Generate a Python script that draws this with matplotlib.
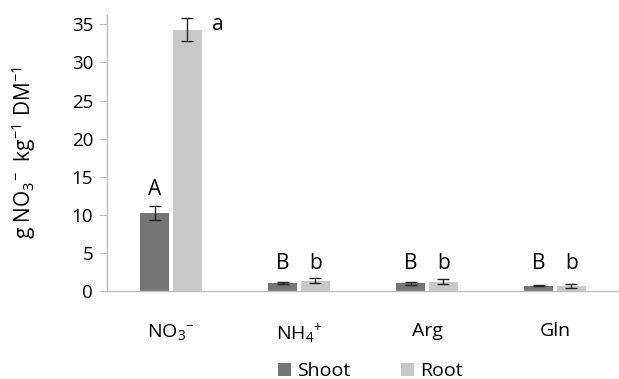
import matplotlib
matplotlib.use("Agg")
import matplotlib.pyplot as plt
import numpy as np

plt.rcParams['font.family'] = ['Open Sans', 'DejaVu Sans']
plt.rcParams['mathtext.fontset'] = 'custom'
plt.rcParams['mathtext.rm'] = 'Open Sans'
plt.rcParams['mathtext.it'] = 'Open Sans'
plt.rcParams['mathtext.bf'] = 'Open Sans'

categories = ["NO$_3$$^{-}$", "NH$_4$$^{+}$", "Arg", "Gln"]
shoot = [10.2, 1.1, 1.0, 0.7]
shoot_err = [0.9, 0.15, 0.15, 0.1]
root = [34.3, 1.35, 1.25, 0.65]
root_err = [1.5, 0.35, 0.35, 0.25]
shoot_letters = ["A", "B", "B", "B"]
root_letters = ["a", "b", "b", "b"]

fig = plt.figure(figsize=(6.19, 3.79), dpi=100)
ax = fig.add_axes([0.173, 0.232, 0.827, 0.728])

x = np.arange(len(categories))
w = 0.225
gap = 0.03
c_shoot = "#757575"
c_root = "#c8c8c8"
ax.bar(x - (w + gap) / 2, shoot, w, color=c_shoot, label="Shoot", zorder=2)
ax.bar(x + (w + gap) / 2, root, w, color=c_root, label="Root", zorder=2)
ax.errorbar(x - (w + gap) / 2, shoot, yerr=shoot_err, fmt="none", ecolor="#222222",
            capsize=4, elinewidth=1, capthick=1, zorder=3)
ax.errorbar(x + (w + gap) / 2, root, yerr=root_err, fmt="none", ecolor="#222222",
            capsize=4, elinewidth=1, capthick=1, zorder=3)

fs_let = 15
for i in range(len(categories)):
    if i == 0:
        ax.text(x[i] - (w + gap) / 2, shoot[i] + shoot_err[i] + 0.9, shoot_letters[i],
                ha="center", va="bottom", fontsize=fs_let)
        ax.text(x[i] + (w + gap) / 2 + 0.24, root[i] + root_err[i] + 0.6, root_letters[i],
                ha="center", va="top", fontsize=fs_let)
    else:
        ax.text(x[i] - (w + gap) / 2, 2.2, shoot_letters[i], ha="center", va="bottom", fontsize=fs_let)
        ax.text(x[i] + (w + gap) / 2, 2.2, root_letters[i], ha="center", va="bottom", fontsize=fs_let)

ax.set_xlim(-0.5, 3.5)
ax.set_ylim(0, 36.2)
ax.set_yticks(np.arange(0, 36, 5))
ax.set_xticks(x)
ax.set_xticklabels(categories, fontsize=14)
ax.tick_params(axis="x", length=0, pad=22)
ax.tick_params(axis="y", direction="out", length=6, color="#bfbfbf", labelsize=13.5, pad=4)
for s in ["top", "right"]:
    ax.spines[s].set_visible(False)
ax.spines["left"].set_color("#bfbfbf")
ax.spines["bottom"].set_color("#bfbfbf")
ax.spines["left"].set_linewidth(1)
ax.spines["bottom"].set_linewidth(1)

ax.set_ylabel("g NO$_3$$^{-}$  kg$^{-1}$ DM$^{-1}$", fontsize=15, labelpad=24)

fig.legend(loc="lower center", bbox_to_anchor=(0.598, -0.05), ncol=2, frameon=False,
           fontsize=14, handlelength=0.7, handleheight=0.7, columnspacing=2.6, handletextpad=0.3)

fig.savefig("out.png", dpi=100)
